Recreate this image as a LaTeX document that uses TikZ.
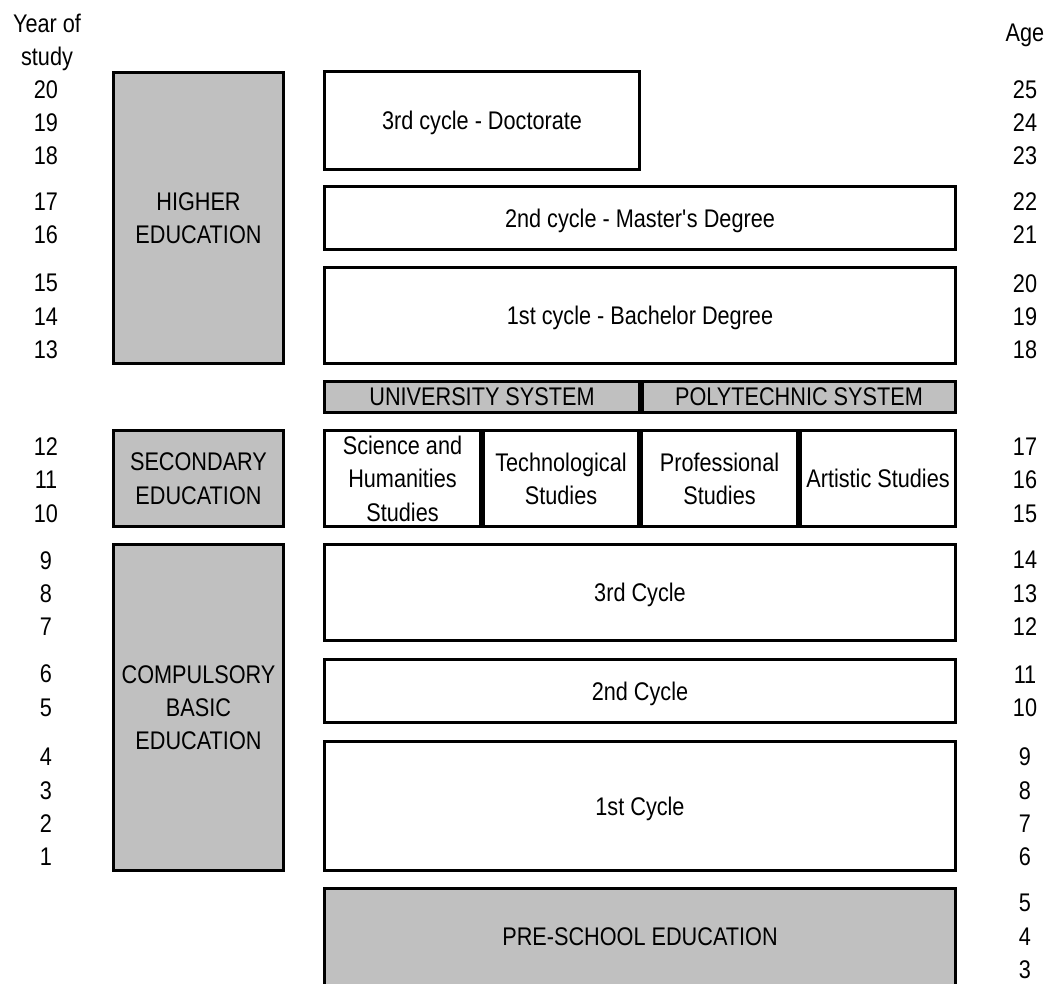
\documentclass[tikz,border=0pt]{standalone}
\usepackage{fontspec}
\setmainfont{Liberation Sans}[FakeStretch=0.85]
\usepackage{tikz}
\definecolor{levelGray}{RGB}{192,192,192}

\begin{document}
\begin{tikzpicture}[x=1pt,y=-1pt,
  font=\fontsize{25.5}{33.3}\selectfont,
  stage/.style={rectangle,draw=black,line width=2.6pt,fill=white,align=center,
                inner sep=0pt,text depth=0pt},
  level/.style={stage,fill=levelGray},
  yrs/.style={align=center,inner sep=0pt,text depth=0pt}
]
  \useasboundingbox (0,0) rectangle (1048,983);

  \node[level,minimum width=170.4,minimum height=291.4](higher) at (198.5,218)  {HIGHER\\EDUCATION};
  \node[level,minimum width=170.4,minimum height=96.4] (second) at (198.5,478.5){SECONDARY\\EDUCATION};
  \node[level,minimum width=170.4,minimum height=326.4](basic)  at (198.5,707.5){COMPULSORY\\BASIC\\EDUCATION};

  \node[stage,minimum width=315.4,minimum height=98.4](doct) at (482,120.5){3rd cycle - Doctorate};
  \node[stage,minimum width=631.4,minimum height=63.4](mast) at (640,218)  {2nd cycle - Master\textquotesingle s Degree};
  \node[stage,minimum width=631.4,minimum height=96.4](bach) at (640,315.5){1st cycle - Bachelor Degree};
  \node[level,minimum width=315.4,minimum height=31.4](univ) at (482,397)  {UNIVERSITY SYSTEM};
  \node[level,minimum width=313.4,minimum height=31.4](poly) at (799,397)  {POLYTECHNIC SYSTEM};

  \node[stage,minimum width=156.4,minimum height=96.4](sci)  at (402.5,478.5){Science and\\Humanities\\Studies};
  \node[stage,minimum width=155.4,minimum height=96.4](tech) at (561,478.5)  {Technological\\Studies};
  \node[stage,minimum width=156.4,minimum height=96.4](prof) at (719.5,478.5){Professional\\Studies};
  \node[stage,minimum width=155.4,minimum height=96.4](art)  at (878,478.5)  {Artistic Studies};

  \node[stage,minimum width=631.4,minimum height=96.4] (cyc3) at (640,592.5){3rd Cycle};
  \node[stage,minimum width=631.4,minimum height=63.4] (cyc2) at (640,691)  {2nd Cycle};
  \node[stage,minimum width=631.4,minimum height=129.4](cyc1) at (640,806)  {1st Cycle};
  \node[level,minimum width=631.4,minimum height=97.4] (pre)  at (640,937)  {PRE-SCHOOL EDUCATION};

  \node[yrs](yhead) at (47,40)    {Year of\\study};
  \node[yrs](y20)   at (46,122.5) {20\\19\\18};
  \node[yrs](y17)   at (46,218)   {17\\16};
  \node[yrs](y15)   at (46,316.5) {15\\14\\13};
  \node[yrs](y12)   at (46,480)   {12\\11\\10};
  \node[yrs](y9)    at (46,593.5) {9\\8\\7};
  \node[yrs](y6)    at (46,690.5) {6\\5};
  \node[yrs](y4)    at (46,807)   {4\\3\\2\\1};

  \node[yrs](ahead) at (1025,33)    {Age};
  \node[yrs](a25)   at (1025,122.5) {25\\24\\23};
  \node[yrs](a22)   at (1025,218)   {22\\21};
  \node[yrs](a20)   at (1025,316.5) {20\\19\\18};
  \node[yrs](a17)   at (1025,480)   {17\\16\\15};
  \node[yrs](a14)   at (1025,593.5) {14\\13\\12};
  \node[yrs](a11)   at (1025,691)   {11\\10};
  \node[yrs](a9)    at (1025,807)   {9\\8\\7\\6};
  \node[yrs](a5)    at (1025,936.5) {5\\4\\3};
\end{tikzpicture}
\end{document}
